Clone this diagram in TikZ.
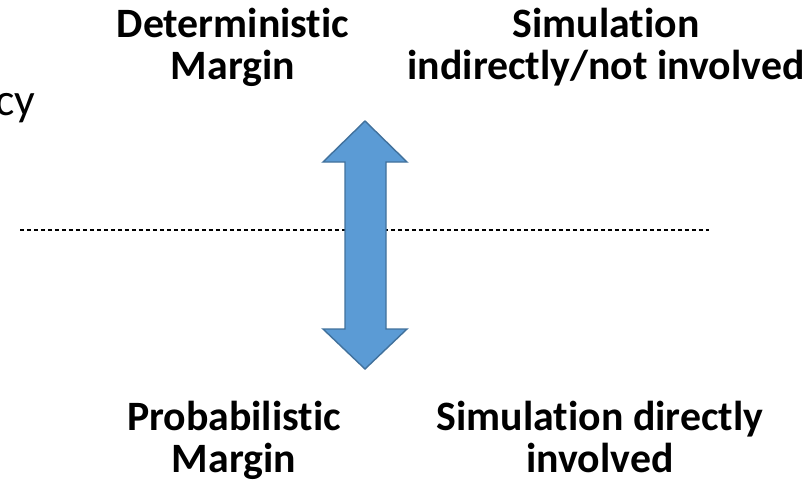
\documentclass[tikz,border=0pt]{standalone}
\usepackage{fontspec}
\setmainfont{Carlito}[Ligatures=NoCommon]
\usepackage{xcolor}
\usetikzlibrary{positioning,calc}
\definecolor{arrowfill}{HTML}{5B9BD5}
\definecolor{arrowedge}{HTML}{41719C}
\tikzset{
  figfont/.style={font=\fontsize{23.8}{23.6}\selectfont\bfseries},
  figlabel/.style={figfont, align=center, inner sep=0pt, anchor=base},
  figbigarrow/.style={draw=arrowedge, fill=arrowfill, line width=0.8pt, line join=miter},
  figdivider/.style={draw=black, line width=0.7pt, dash pattern=on 0.08cm off 0.06cm},
}

\begin{document}
\begin{tikzpicture}[x=0.02cm, y=-0.02cm]
  \useasboundingbox (0,0) rectangle (808,491);

  % Cut-off word at the left
  \node[font=\fontsize{26}{30}\selectfont, inner sep=0pt, anchor=base east] (cutword) at (36,115) {cy};

  % Divider
  \coordinate (divL) at (20,230);
  \coordinate (divR) at (709,230);
  \draw[figdivider] (divL) -- (divR);

  % Double arrow
  \coordinate (tipT) at (365,121);
  \coordinate (tipB) at (365,369);
  \fill[figbigarrow] (tipT) -- (407,162) -- (386,162) -- (386,329) -- (407,329)
    -- (tipB) -- (323,329) -- (345,329) -- (345,162) -- (323,162) -- cycle;

  % Top labels (anchored at the last line)
  \node[figlabel] (detLbl) at (233,79) {Deterministic\\Margin};
  \node[figlabel] (simTopLbl) at (606,79) {Simulation\\indirectly/not involved};

  % Bottom labels
  \node[figlabel] (probLbl) at (234,472) {Probabilistic\\Margin};
  \node[figlabel] (simBotLbl) at (600,472) {Simulation directly\\involved};
\end{tikzpicture}
\end{document}
